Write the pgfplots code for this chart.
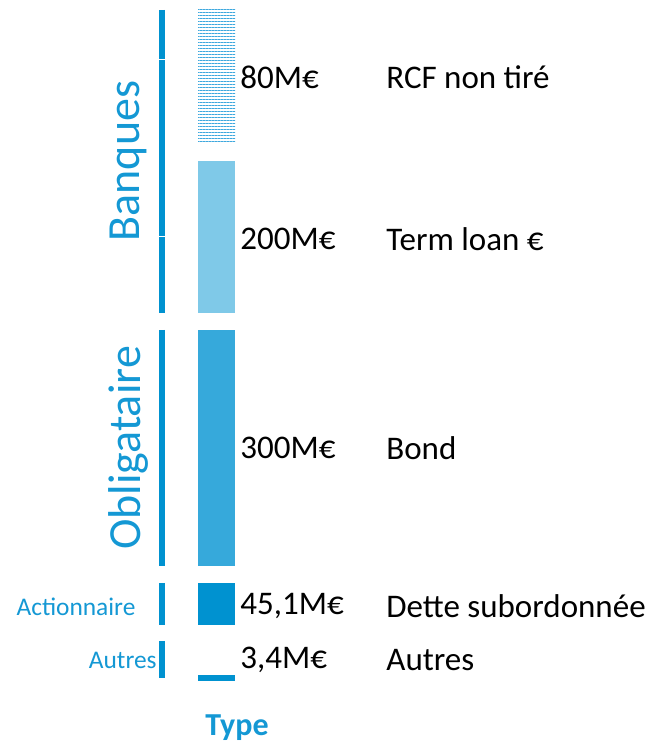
\documentclass[border=0pt]{standalone}
\usepackage{pgfplots}
\pgfplotsset{compat=1.18}
\usetikzlibrary{patterns.meta}
\usepackage{fontspec}
\setmainfont{Carlito}

\definecolor{cDark}{RGB}{0,146,208}
\definecolor{cMid}{RGB}{54,169,219}
\definecolor{cLight}{RGB}{127,201,232}
\definecolor{cHatch}{RGB}{61,168,222}
\definecolor{cText}{RGB}{20,152,212}

\begin{document}
\begin{tikzpicture}
% bars: heights in picture units, white gaps between segments
\begin{axis}[
    name=bars,
    width=322.5pt, height=372.5pt, scale only axis,
    xmin=0, xmax=645, ymin=0, ymax=745,
    axis lines=none, clip=false,
    ybar stacked, bar width=37,
]
    \addplot[draw=none, fill=none] coordinates {(216.5,64)};
    \addplot[draw=none, fill=cDark] coordinates {(216.5,6)};     % Autres 3,4
    \addplot[draw=none, fill=none] coordinates {(216.5,50)};
    \addplot[draw=none, fill=cDark] coordinates {(216.5,42)};    % Dette sub. 45,1
    \addplot[draw=none, fill=none] coordinates {(216.5,17)};
    \addplot[draw=none, fill=cMid] coordinates {(216.5,236)};    % Bond 300
    \addplot[draw=none, fill=none] coordinates {(216.5,17)};
    \addplot[draw=none, fill=cLight] coordinates {(216.5,152)};  % Term loan 200
    \addplot[draw=none, fill=none] coordinates {(216.5,18)};
    \addplot[draw=none, pattern={Lines[angle=0,distance=1.5pt,line width=0.5pt]},
        pattern color=cHatch] coordinates {(216.5,133)};         % RCF 80
\end{axis}
% brackets and labels
\begin{axis}[
    width=322.5pt, height=372.5pt, scale only axis,
    xmin=0, xmax=645, ymin=0, ymax=745,
    axis lines=none, clip=false,
]
    \addplot[cDark, line width=3pt, no marks] coordinates {(162,735) (162,685.5)};
    \addplot[cDark, line width=3pt, no marks] coordinates {(162,684.5) (162,508.5)};
    \addplot[cDark, line width=3pt, no marks] coordinates {(162,507.5) (162,432)};
    \addplot[cDark, line width=3pt, no marks] coordinates {(162,415) (162,179)};
    \addplot[cDark, line width=3pt, no marks] coordinates {(162,162) (162,120)};
    \addplot[cDark, line width=3pt, no marks] coordinates {(162,104) (162,67)};

    \begin{scope}[every node/.style={inner sep=0pt, font=\fontsize{16.5}{18}\selectfont}]
    \node[anchor=west] at (axis cs:240,668) {80M€};
    \node[anchor=west] at (axis cs:240,506) {200M€};
    \node[anchor=west] at (axis cs:240,297) {300M€};
    \node[anchor=west] at (axis cs:240,139) {45,1M€};
    \node[anchor=west] at (axis cs:240,85) {3,4M€};
    \node[anchor=west] at (axis cs:386,668) {RCF non tiré};
    \node[anchor=west] at (axis cs:386,506) {Term loan €};
    \node[anchor=west] at (axis cs:386,297) {Bond};
    \node[anchor=west] at (axis cs:386,139) {Dette subordonnée};
    \node[anchor=west] at (axis cs:386,85) {Autres};
    \end{scope}

    \node[rotate=90, text=cText, inner sep=0pt, font=\fontsize{23}{26}\selectfont]
        at (axis cs:128,584) {Banques};
    \node[rotate=90, text=cText, inner sep=0pt, font=\fontsize{23}{26}\selectfont]
        at (axis cs:128,297) {Obligataire};
    \node[text=cText, inner sep=0pt, font=\fontsize{12.7}{14}\selectfont]
        at (axis cs:76,138) {Actionnaire};
    \node[anchor=east, text=cText, inner sep=0pt, font=\fontsize{12.7}{14}\selectfont]
        at (axis cs:157,85) {Autres};
    \node[text=cText, inner sep=0pt, font=\fontsize{16}{18}\selectfont\bfseries]
        at (axis cs:237,17) {Type};
\end{axis}
\pgfresetboundingbox
\path (bars.south west) rectangle (bars.north east);
\end{tikzpicture}
\end{document}
